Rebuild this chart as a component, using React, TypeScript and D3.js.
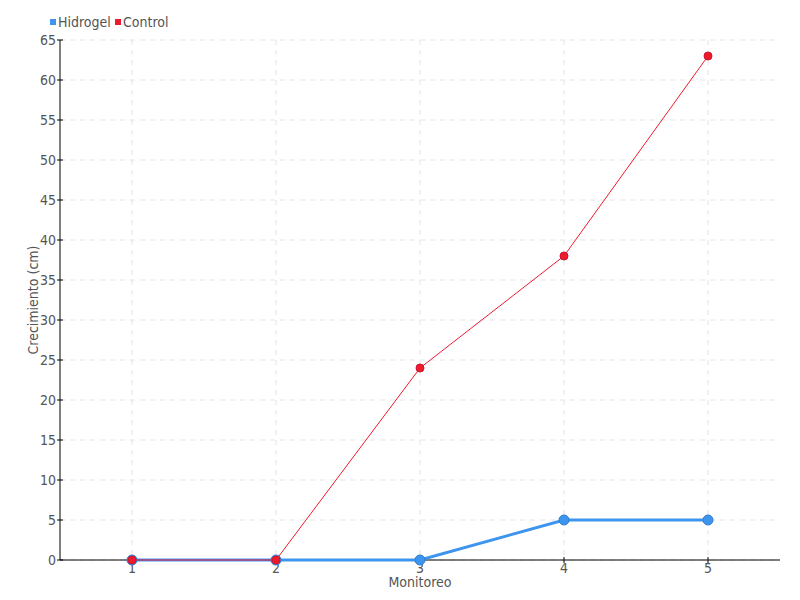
import React from "react";
import * as d3 from "d3";

const categories = [1, 2, 3, 4, 5];
const hidrogel = [0, 0, 0, 5, 5];
const control = [0, 0, 24, 38, 63];
const yTicks = [0, 5, 10, 15, 20, 25, 30, 35, 40, 45, 50, 55, 60, 65];
const seriesNames = ["Hidrogel", "Control"];

const FONT = "'DejaVu Sans Condensed', 'Liberation Sans Narrow', 'Roboto', sans-serif";

export default function App() {
  const W = 800, H = 600;
  const left = 60, right = 780, top = 40, bottom = 560;
  const x = d3.scaleLinear().domain([0.5, 5.5]).range([left, right]);
  const y = d3.scaleLinear().domain([0, 65]).range([bottom, top]);
  const line = d3.line<number>().x((_, i) => x(categories[i])).y((d) => y(d));
  const blue = "#3d95ef";
  const red = "#ee1a2d";
  return (
    <svg width={W} height={H} style={{ position: "absolute", left: 0, top: 0 }} fontFamily={FONT}>
      <rect width={W} height={H} fill="#fff" />
      {yTicks.map((t) => (
        <line key={"gy" + t} x1={left} x2={right} y1={y(t)} y2={y(t)} stroke="#e4e4e4" strokeDasharray="5,5" />
      ))}
      {categories.map((c) => (
        <line key={"gx" + c} x1={x(c)} x2={x(c)} y1={top} y2={bottom} stroke="#e4e4e4" strokeDasharray="5,5" />
      ))}
      <line x1={left} x2={left} y1={top} y2={bottom} stroke="#000" />
      <line x1={left} x2={right} y1={bottom} y2={bottom} stroke="#000" />
      {yTicks.map((t) => (
        <g key={"ty" + t}>
          <line x1={left - 3} x2={left + 3} y1={y(t)} y2={y(t)} stroke="#000" />
          <text x={left - 4} y={y(t)} dy="0.35em" textAnchor="end" fontSize={14} fill="#555">{t}</text>
        </g>
      ))}
      {categories.map((c) => (
        <g key={"tx" + c}>
          <line x1={x(c)} x2={x(c)} y1={bottom - 3} y2={bottom + 3} stroke="#000" />
          <text x={x(c)} y={bottom + 13} textAnchor="middle" fontSize={14} fill="#555">{c}</text>
        </g>
      ))}
      <text x={x(3)} y={587} textAnchor="middle" fontSize={14} fill="#555">Monitoreo</text>
      <text transform={`translate(38,${(top + bottom) / 2}) rotate(-90)`} textAnchor="middle" fontSize={14} fill="#555">Crecimiento (cm)</text>

      <path d={line(hidrogel) || ""} fill="none" stroke={blue} strokeWidth={3} />
      {hidrogel.map((v, i) => (
        <circle key={"h" + i} cx={x(categories[i])} cy={y(v)} r={5} fill={blue} stroke="#2f7bd0" strokeWidth={1} />
      ))}
      <path d={line(control) || ""} fill="none" stroke={red} strokeWidth={1} />
      {control.map((v, i) => (
        <circle key={"c" + i} cx={x(categories[i])} cy={y(v)} r={4} fill={red} stroke="#d0142a" strokeWidth={1} />
      ))}

      <rect x={50} y={19} width={6} height={6} fill={blue} />
      <text x={58} y={22} dy="0.35em" fontSize={14} fill="#555">{seriesNames[0]}</text>
      <rect x={115} y={19} width={6} height={6} fill={red} />
      <text x={123} y={22} dy="0.35em" fontSize={14} fill="#555">{seriesNames[1]}</text>
    </svg>
  );
}
